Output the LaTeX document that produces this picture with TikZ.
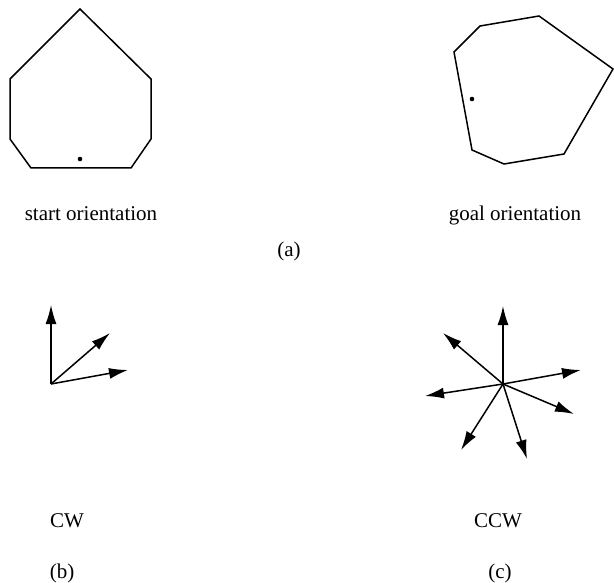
\documentclass[tikz,border=0pt]{standalone}
\usepackage{fontspec}
\setmainfont{Liberation Serif}
\usetikzlibrary{arrows.meta}

\begin{document}
\begin{tikzpicture}[x=1pt, y=-1pt, >={Latex[length=19pt,width=11pt]}, line width=1.5pt,   %Pfeilspitzen
  lbl/.style={anchor=base, inner sep=0pt, font=\fontsize{21}{25}\selectfont}]
  \useasboundingbox (0,0) rectangle (614,583);
  % (a) Start und Ziel
  \draw (80,9) -- (151,79) -- (151,139) -- (131,168) -- (31,168) -- (10,139) -- (10,79) -- cycle;
  \fill (80,159) circle (2.3pt);
  \draw (480,26) -- (539,16) -- (613,69) -- (564,154) -- (504,164) -- (472,150) -- (454,52) -- cycle;
  \fill (472,99) circle (2.3pt);
  \node[lbl] (start) at (91,221) {start orientation};
  \node[lbl] (goal) at (515,221) {goal orientation};
  \node[lbl] (capa) at (289,257) {(a)};
  % (b) CW
  \coordinate (cw) at (51,384);
  \coordinate (cw1) at (51,305);
  \coordinate (cw2) at (110,333);
  \coordinate (cw3) at (128,370);
  \foreach \t in {cw1,cw2,cw3}
    \draw[->] (cw) -- (\t);
  \node[lbl] (cwtext) at (67,527) {CW};
  \node[lbl] (capb) at (62,578) {(b)};
  % (c) CCW
  \coordinate (ccw) at (503,384);
  \coordinate (ccw1) at (503,306);
  \coordinate (ccw2) at (443,333);
  \coordinate (ccw3) at (581,370);
  \coordinate (ccw4) at (425,396);
  \coordinate (ccw5) at (574,414);
  \coordinate (ccw6) at (461,450);
  \coordinate (ccw7) at (527,459);
  \foreach \t in {ccw1,ccw2,ccw3,ccw4,ccw5,ccw6,ccw7}
    \draw[->] (ccw) -- (\t);
  \node[lbl] (ccwtext) at (498,527) {CCW};
  \node[lbl] (capc) at (500,578) {(c)};
\end{tikzpicture}
\end{document}
